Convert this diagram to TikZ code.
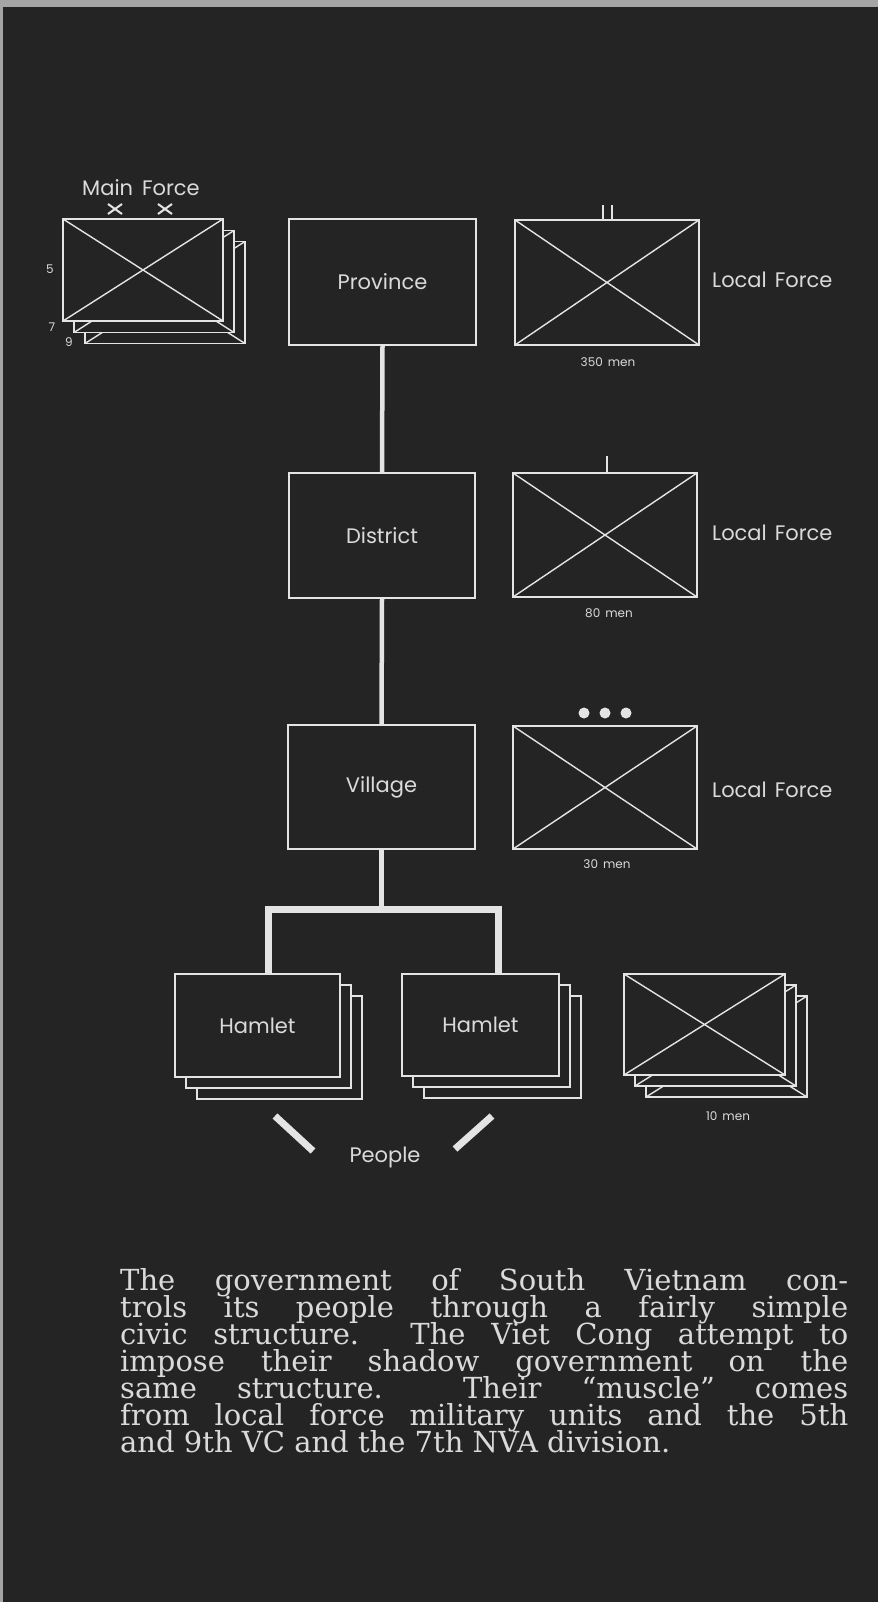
\documentclass[tikz,border=0pt]{standalone}
\usepackage{fontspec}
\newfontfamily\lblfont{Poppins}
\newfontfamily\capfont{DejaVu Serif}
\definecolor{bg}{RGB}{36,36,36}
\definecolor{ln}{RGB}{228,228,228}
\definecolor{tx}{RGB}{218,218,218}
\definecolor{edgecol}{RGB}{165,165,165}
\begin{document}
\begin{tikzpicture}[x=1pt,y=-1pt,
  side/.style={text=tx, inner sep=0pt, font=\lblfont\fontsize{21}{24}\selectfont},
  small/.style={text=tx, inner sep=0pt, font=\lblfont\fontsize{12}{14}\selectfont},
  box/.style={draw=ln, line width=1.8pt, fill=bg, inner sep=0pt, text=tx,
    font=\lblfont\fontsize{21}{24}\selectfont},
  xbox/.style={box, path picture={\draw[ln,line width=1.4pt]
    (path picture bounding box.north west) -- (path picture bounding box.south east)
    (path picture bounding box.north east) -- (path picture bounding box.south west);}},
  conn/.style={draw=ln, line width=4.5pt},
  midconn/.style={draw=ln, line width=5.5pt},
  thickconn/.style={draw=ln, line width=7pt},
  tick/.style={draw=ln, line width=2pt},
]
% background
\fill[bg] (0,0) rectangle (878,1602);
\fill[edgecol] (0,0) rectangle (878,7);
\fill[edgecol] (0,0) rectangle (3,1602);
\useasboundingbox (0,0) rectangle (878,1602);

% Main Force stack
\node[side, anchor=base] (mflabel) at (141,196) {Main\hskip 9pt Force};
\draw[tick] (108,204) -- (122,214) (108,214) -- (122,204);
\draw[tick] (158,204) -- (172,214) (158,214) -- (172,204);
\node[xbox, minimum width=160pt, minimum height=102pt] (mf3) at (165,292.5) {};
\node[xbox, minimum width=160pt, minimum height=102pt] (mf2) at (154,281.5) {};
\node[xbox, minimum width=160pt, minimum height=102pt] (mf) at (143,270) {};
\node[small, anchor=base] (n5) at (50,274) {5};
\node[small, anchor=base] (n7) at (52,331) {7};
\node[small, anchor=base] (n9) at (69,346) {9};

% civic chain
\node[box, minimum width=187pt, minimum height=126pt] (prov) at (382.5,282) {Province};
\node[box, minimum width=186pt, minimum height=125pt] (dist) at (382,535.5) {District};
\node[box, minimum width=187pt, minimum height=124pt] (vil) at (381.5,787) {Village};

% local forces
\node[xbox, minimum width=184pt, minimum height=125pt] (lf1) at (607,282.5) {};
\node[xbox, minimum width=184pt, minimum height=124pt] (lf2) at (605,535) {};
\node[xbox, minimum width=184pt, minimum height=123pt] (lf3) at (605,787.5) {};
\draw[tick] ([xshift=-4.5pt]lf1.north) -- ++(0,-14);
\draw[tick] ([xshift=4.5pt]lf1.north) -- ++(0,-14);
\draw[tick] ([xshift=2pt]lf2.north) -- ++(0,-16);
\fill[ln] (584,713) circle (5.5) (605,713) circle (5.5) (626,713) circle (5.5);
\node[side, anchor=base west] (lfl1) at (712,288) {Local\hskip 8pt Force};
\node[side, anchor=base west] (lfl2) at (712,540) {Local\hskip 8pt Force};
\node[side, anchor=base west] (lfl3) at (712,797) {Local\hskip 8pt Force};
\node[small, anchor=base] (m350) at (608,366) {350\hskip 5pt men};
\node[small, anchor=base] (m80) at (609,617) {80\hskip 5pt men};
\node[small, anchor=base] (m30) at (607,868) {30\hskip 5pt men};

% hamlets
\node[box, minimum width=165pt, minimum height=103pt] (ham1c) at (279.5,1047.5) {};
\node[box, minimum width=165pt, minimum height=103pt] (ham1b) at (268.5,1036.5) {};
\node[box, minimum width=165pt, minimum height=103pt] (ham1) at (257.5,1025.5) {Hamlet};
\node[box, minimum width=157pt, minimum height=102pt] (ham2c) at (502.5,1047) {};
\node[box, minimum width=157pt, minimum height=102pt] (ham2b) at (491.5,1036) {};
\node[box, minimum width=157pt, minimum height=102pt] (ham2) at (480.5,1025) {Hamlet};

% 10 men stack
\node[xbox, minimum width=161pt, minimum height=101pt] (sq3) at (726.5,1046.5) {};
\node[xbox, minimum width=161pt, minimum height=101pt] (sq2) at (715.5,1035.5) {};
\node[xbox, minimum width=161pt, minimum height=101pt] (sq) at (704.5,1024.5) {};
\node[small, anchor=base] (m10) at (728,1120) {10\hskip 5pt men};

% connectors
\draw[conn] (prov.south) -- (dist.north);
\draw[conn] (dist.south) -- (vil.north);
\coordinate (j) at (381.5,909);
\coordinate (jl) at (268,909);
\coordinate (jr) at (498,909);
\draw[midconn] (vil.south) -- (j);
\draw[thickconn, line join=miter] (ham1.north -| jl) -- (jl) -- (jr) -- (ham2.north -| jr);

% people
\coordinate (pl1) at (275,1116);
\coordinate (pl2) at (313,1151);
\coordinate (pr1) at (492,1116);
\coordinate (pr2) at (455,1149);
\draw[thickconn] (pl1) -- (pl2);
\draw[thickconn] (pr1) -- (pr2);
\node[side, anchor=base] (people) at (385,1162) {People};

% caption
\node[anchor=north west, inner sep=0pt, text width=728pt, align=justify, text=tx,
  font=\capfont\fontsize{29}{27}\selectfont] (para) at (120,1268) {%
\baselineskip=27pt\relax \lineskiplimit=-100pt\relax \lineskip=0pt\relax
\tolerance=10000 \hyphenpenalty=10000 \hbadness=10000
The government of South Vietnam con-\linebreak
trols its people through a fairly simple\linebreak
civic structure.\ \ The Viet Cong attempt to\linebreak
impose their shadow government on the\linebreak
same structure.\ \ Their “muscle” comes\linebreak
from local force military units and the 5th\linebreak
and 9th VC and the 7th NVA division.\par};
\end{tikzpicture}
\end{document}
